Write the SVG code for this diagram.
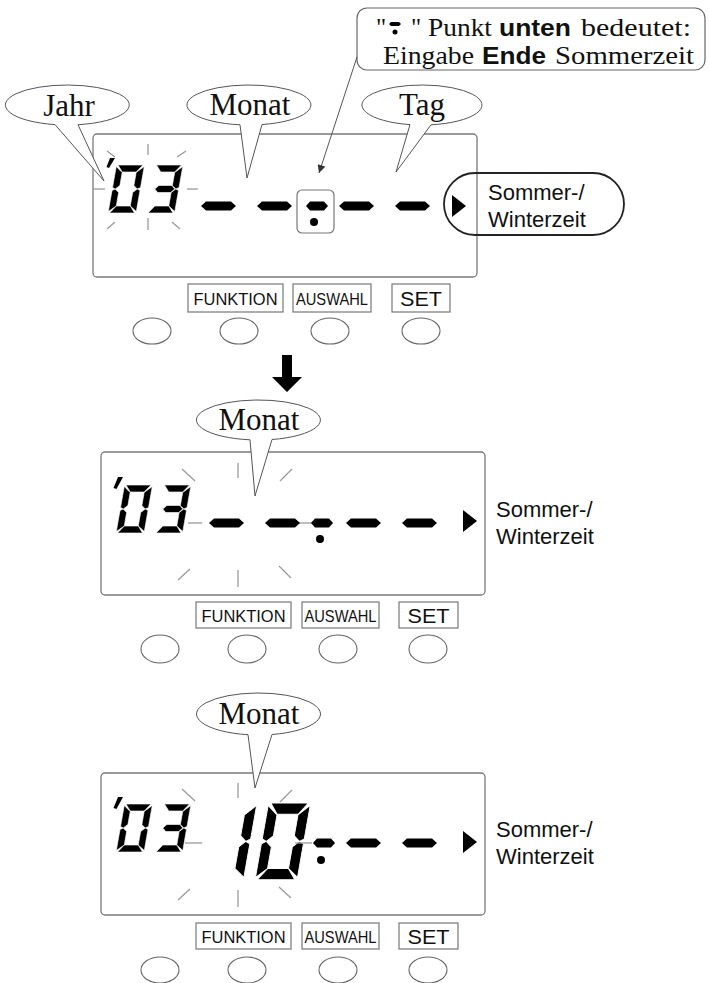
<svg xmlns="http://www.w3.org/2000/svg" xmlns:xlink="http://www.w3.org/1999/xlink" width="709" height="983" viewBox="0 0 709 983">
<style>
.pl{fill:none;stroke:#7a7a7a;stroke-width:1.3}
.bub{fill:#fff;stroke:#555;stroke-width:1}
.sp{stroke:#9a9a9a;stroke-width:1.3;fill:none}
.lbl{fill:none;stroke:#777;stroke-width:1.2}
.btn{fill:none;stroke:#666;stroke-width:1.1}
.ser{font-family:"Liberation Serif","Times New Roman",serif;fill:#111}
.sans{font-family:"Liberation Sans",Arial,sans-serif;fill:#111}
.bs{font-family:"Liberation Sans",Arial,sans-serif;font-weight:bold;fill:#111}
.seg{fill:#000;stroke:#fff;stroke-width:0.6}
.blk{fill:#000}
</style>
<defs>
<path id="sa" d="M1.5,0 H26.5 L21,7 H7 Z"/>
<path id="sb" d="M28,1.5 V22.5 L25,24 L21,20.5 V7.5 Z"/>
<path id="sc" d="M28,25.5 V46.5 L21,41 V27.5 L25,24 Z"/>
<path id="sd" d="M1.5,48 H26.5 L21,41 H7 Z"/>
<path id="se" d="M0,25.5 L3,24 L7,27.5 V41 L0,46.5 Z"/>
<path id="sf" d="M0,1.5 L7,7.5 V20.5 L3,24 L0,22.5 Z"/>
<path id="sg" d="M4,24 L7.5,20.5 H20.5 L24,24 L20.5,27.5 H7.5 Z"/>
<g id="d0" class="seg"><use xlink:href="#sa"/><use xlink:href="#sb"/><use xlink:href="#sc"/><use xlink:href="#sd"/><use xlink:href="#se"/><use xlink:href="#sf"/></g>
<g id="d3" class="seg"><use xlink:href="#sa"/><use xlink:href="#sb"/><use xlink:href="#sc"/><use xlink:href="#sd"/><use xlink:href="#sg"/></g>
<g id="d1" class="seg"><use xlink:href="#sb"/><use xlink:href="#sc"/></g>
<path id="dl" d="M0,0 L5,-4.5 H30 L35,0 L30,4.5 H5 Z"/>
<path id="ds" d="M0,0 L4,-4.5 H18 L22,0 L18,4.5 H4 Z"/>
<path id="tri" d="M0,-11 L14,0 L0,11 Z"/>
<marker id="ah" viewBox="0 0 10 10" refX="10" refY="5" markerWidth="10" markerHeight="8" markerUnits="userSpaceOnUse" orient="auto">
<path d="M0,0 L10,5 L0,10 Z" fill="#333"/>
</marker>
</defs>

<g id="callout">
<rect x="357" y="8" width="348" height="62" rx="10" fill="none" stroke="#666" stroke-width="1.2"/>
<path class="blk" d="M389,24 L391,22 H399 L401,24 L399,26 H391 Z"/>
<circle class="blk" cx="395" cy="32" r="2.5"/>
<text class="ser" font-size="25" x="376" y="36">"</text>
<text class="ser" font-size="25" x="411" y="36">"</text>
<text class="ser" font-size="25" x="428" y="36" textLength="64" lengthAdjust="spacingAndGlyphs">Punkt</text>
<text class="bs" font-size="24" x="499" y="36" textLength="72" lengthAdjust="spacingAndGlyphs">unten</text>
<text class="ser" font-size="25" x="581" y="36" textLength="110" lengthAdjust="spacingAndGlyphs">bedeutet:</text>
<text class="ser" font-size="25" x="383" y="64" textLength="91" lengthAdjust="spacingAndGlyphs">Eingabe</text>
<text class="bs" font-size="24" x="482" y="64" textLength="64" lengthAdjust="spacingAndGlyphs">Ende</text>
<text class="ser" font-size="25" x="555" y="64" textLength="139" lengthAdjust="spacingAndGlyphs">Sommerzeit</text>
</g>

<g id="panel1">
<rect class="pl" x="93" y="134" width="384" height="143" rx="4"/>
<path class="blk" d="M110,158 L115,158 L109,168 L106.5,167 Z"/>
<use xlink:href="#d0" transform="translate(116.5,165) skewX(-10)"/>
<use xlink:href="#d3" transform="translate(155,165) skewX(-10)"/>
<g class="sp">
<line x1="148" y1="144" x2="148" y2="155"/>
<line x1="148" y1="218" x2="148" y2="230"/>
<line x1="93" y1="189" x2="105" y2="189"/>
<line x1="187" y1="189" x2="198" y2="189"/>
<line x1="107" y1="151" x2="115" y2="157"/>
<line x1="177" y1="157" x2="186" y2="151"/>
<line x1="107" y1="229" x2="115" y2="222"/>
<line x1="172" y1="222" x2="180" y2="229"/>
</g>
<use xlink:href="#dl" x="201" y="206"/>
<use xlink:href="#dl" x="257" y="206"/>
<use xlink:href="#ds" x="306" y="206"/>
<use xlink:href="#dl" x="339" y="206"/>
<use xlink:href="#dl" x="395" y="206"/>
<circle class="blk" cx="314" cy="222" r="4"/>
<rect x="297" y="190" width="37" height="43" rx="5" fill="none" stroke="#777" stroke-width="1.2"/>
<use xlink:href="#tri" x="452" y="206"/>
</g>

<g id="pill1">
<rect x="444" y="173" width="180" height="62" rx="31" fill="none" stroke="#222" stroke-width="1.8"/>
<text class="sans" font-size="22" x="488" y="200">Sommer-/</text>
<text class="sans" font-size="22" x="488" y="227">Winterzeit</text>
</g>

<g id="bubble-jahr">
<path class="bub" d="M78,124.7 A62,20 0 1 0 55,124.6 L104,181 Z"/>
<text class="ser" font-size="31" x="69" y="116" text-anchor="middle">Jahr</text>
</g>
<g id="bubble-monat1">
<path class="bub" d="M262,124.55 A62,20 0 1 0 240,124.79 L247,178 Z"/>
<text class="ser" font-size="31" x="250" y="115" text-anchor="middle">Monat</text>
</g>
<g id="bubble-tag">
<path class="bub" d="M431,124.77 A60,20 0 1 0 410,124.6 L396,172 Z"/>
<text class="ser" font-size="31" x="422" y="115" text-anchor="middle">Tag</text>
</g>

<g id="buttons1">
<rect class="lbl" x="188" y="284" width="95" height="28"/>
<text class="sans" font-size="17" x="235.5" y="305" text-anchor="middle" textLength="84" lengthAdjust="spacingAndGlyphs">FUNKTION</text>
<rect class="lbl" x="293" y="284" width="78" height="28"/>
<text class="sans" font-size="17" x="332" y="305" text-anchor="middle" textLength="72" lengthAdjust="spacingAndGlyphs">AUSWAHL</text>
<rect class="lbl" x="392" y="284" width="58" height="28"/>
<text class="sans" font-size="20" x="421" y="306" text-anchor="middle" textLength="42" lengthAdjust="spacingAndGlyphs">SET</text>
<ellipse class="btn" cx="152" cy="331" rx="19" ry="13"/>
<ellipse class="btn" cx="239" cy="331" rx="19" ry="13"/>
<ellipse class="btn" cx="330" cy="331" rx="19" ry="13"/>
<ellipse class="btn" cx="421" cy="331" rx="19" ry="13"/>
</g>

<g id="panel2">
<rect class="pl" x="101" y="452" width="384" height="143" rx="4"/>
<path class="blk" d="M118,477 L123,477 L116.5,489 L113.5,488 Z"/>
<use xlink:href="#d0" transform="translate(124.5,485) skewX(-10)"/>
<use xlink:href="#d3" transform="translate(163,485) skewX(-10)"/>
<g class="sp">
<line x1="238" y1="463" x2="238" y2="478"/>
<line x1="238" y1="570" x2="238" y2="587"/>
<line x1="182" y1="469" x2="195" y2="481"/>
<line x1="280" y1="481" x2="292" y2="469"/>
<line x1="178" y1="580" x2="190" y2="569"/>
<line x1="279" y1="566" x2="291" y2="578"/>
<line x1="188" y1="523" x2="202" y2="523"/>
<line x1="293" y1="523" x2="313" y2="523"/>
</g>
<use xlink:href="#dl" x="209" y="523"/>
<use xlink:href="#dl" x="265" y="523"/>
<use xlink:href="#ds" x="311" y="523"/>
<use xlink:href="#dl" x="346" y="523"/>
<use xlink:href="#dl" x="402" y="523"/>
<circle class="blk" cx="320" cy="539" r="4"/>
<use xlink:href="#tri" x="463" y="521"/>
<text class="sans" font-size="22" x="496" y="517">Sommer-/</text>
<text class="sans" font-size="22" x="496" y="544">Winterzeit</text>
</g>
<g id="bubble-monat2">
<path class="bub" d="M272,439.5 A62,20 0 1 0 250,439.8 L255,496 Z"/>
<text class="ser" font-size="31" x="259" y="430" text-anchor="middle">Monat</text>
</g>

<g id="buttons2">
<rect class="lbl" x="196" y="602" width="95" height="26"/>
<text class="sans" font-size="17" x="243.5" y="622" text-anchor="middle" textLength="84" lengthAdjust="spacingAndGlyphs">FUNKTION</text>
<rect class="lbl" x="302" y="602" width="77" height="26"/>
<text class="sans" font-size="17" x="340.5" y="622" text-anchor="middle" textLength="72" lengthAdjust="spacingAndGlyphs">AUSWAHL</text>
<rect class="lbl" x="399" y="602" width="59" height="26"/>
<text class="sans" font-size="20" x="428.5" y="623" text-anchor="middle" textLength="42" lengthAdjust="spacingAndGlyphs">SET</text>
<ellipse class="btn" cx="160" cy="649" rx="19" ry="14"/>
<ellipse class="btn" cx="247" cy="649" rx="19" ry="14"/>
<ellipse class="btn" cx="338" cy="649" rx="19" ry="14"/>
<ellipse class="btn" cx="428" cy="649" rx="19" ry="14"/>
</g>

<g id="panel3">
<rect class="pl" x="101" y="773" width="384" height="142" rx="4"/>
<path class="blk" d="M118,797 L123,797 L116.5,809 L113.5,808 Z"/>
<use xlink:href="#d0" transform="translate(124.5,804) skewX(-10)"/>
<use xlink:href="#d3" transform="translate(163,804) skewX(-10)"/>
<use xlink:href="#d1" transform="translate(215,803) skewX(-10) scale(1.5,1.6)"/>
<use xlink:href="#d0" transform="translate(268.6,803) skewX(-10) scale(1.5,1.6)"/>
<g class="sp">
<line x1="238" y1="783" x2="238" y2="798"/>
<line x1="238" y1="890" x2="238" y2="907"/>
<line x1="182" y1="789" x2="195" y2="801"/>
<line x1="280" y1="802" x2="292" y2="790"/>
<line x1="178" y1="900" x2="190" y2="889"/>
<line x1="279" y1="887" x2="291" y2="898"/>
<line x1="185" y1="843" x2="202" y2="843"/>
<line x1="295" y1="843" x2="312" y2="843"/>
</g>
<use xlink:href="#ds" x="313" y="843"/>
<use xlink:href="#dl" x="346" y="843"/>
<use xlink:href="#dl" x="402" y="843"/>
<circle class="blk" cx="321" cy="860" r="4"/>
<use xlink:href="#tri" x="463" y="842"/>
<text class="sans" font-size="22" x="496" y="837">Sommer-/</text>
<text class="sans" font-size="22" x="496" y="864">Winterzeit</text>
</g>
<g id="bubble-monat3">
<path class="bub" d="M272,734.5 A62,21 0 1 0 248,734.7 L255,788 Z"/>
<text class="ser" font-size="31" x="259" y="724" text-anchor="middle">Monat</text>
</g>

<g id="buttons3">
<rect class="lbl" x="196" y="923" width="95" height="26"/>
<text class="sans" font-size="17" x="243.5" y="943" text-anchor="middle" textLength="84" lengthAdjust="spacingAndGlyphs">FUNKTION</text>
<rect class="lbl" x="302" y="923" width="77" height="26"/>
<text class="sans" font-size="17" x="340.5" y="943" text-anchor="middle" textLength="72" lengthAdjust="spacingAndGlyphs">AUSWAHL</text>
<rect class="lbl" x="399" y="923" width="59" height="26"/>
<text class="sans" font-size="20" x="428.5" y="944" text-anchor="middle" textLength="42" lengthAdjust="spacingAndGlyphs">SET</text>
<ellipse class="btn" cx="160" cy="970" rx="19" ry="13"/>
<ellipse class="btn" cx="247" cy="970" rx="19" ry="13"/>
<ellipse class="btn" cx="338" cy="970" rx="19" ry="13"/>
<ellipse class="btn" cx="428" cy="970" rx="19" ry="13"/>
</g>

<g id="connectors">
<line x1="357" y1="57" x2="319" y2="173" stroke="#555" stroke-width="1" marker-end="url(#ah)"/>
<path class="blk" d="M282,355 H292 V377 H302 L287,392 L272,377 H282 Z"/>
</g>
</svg>
